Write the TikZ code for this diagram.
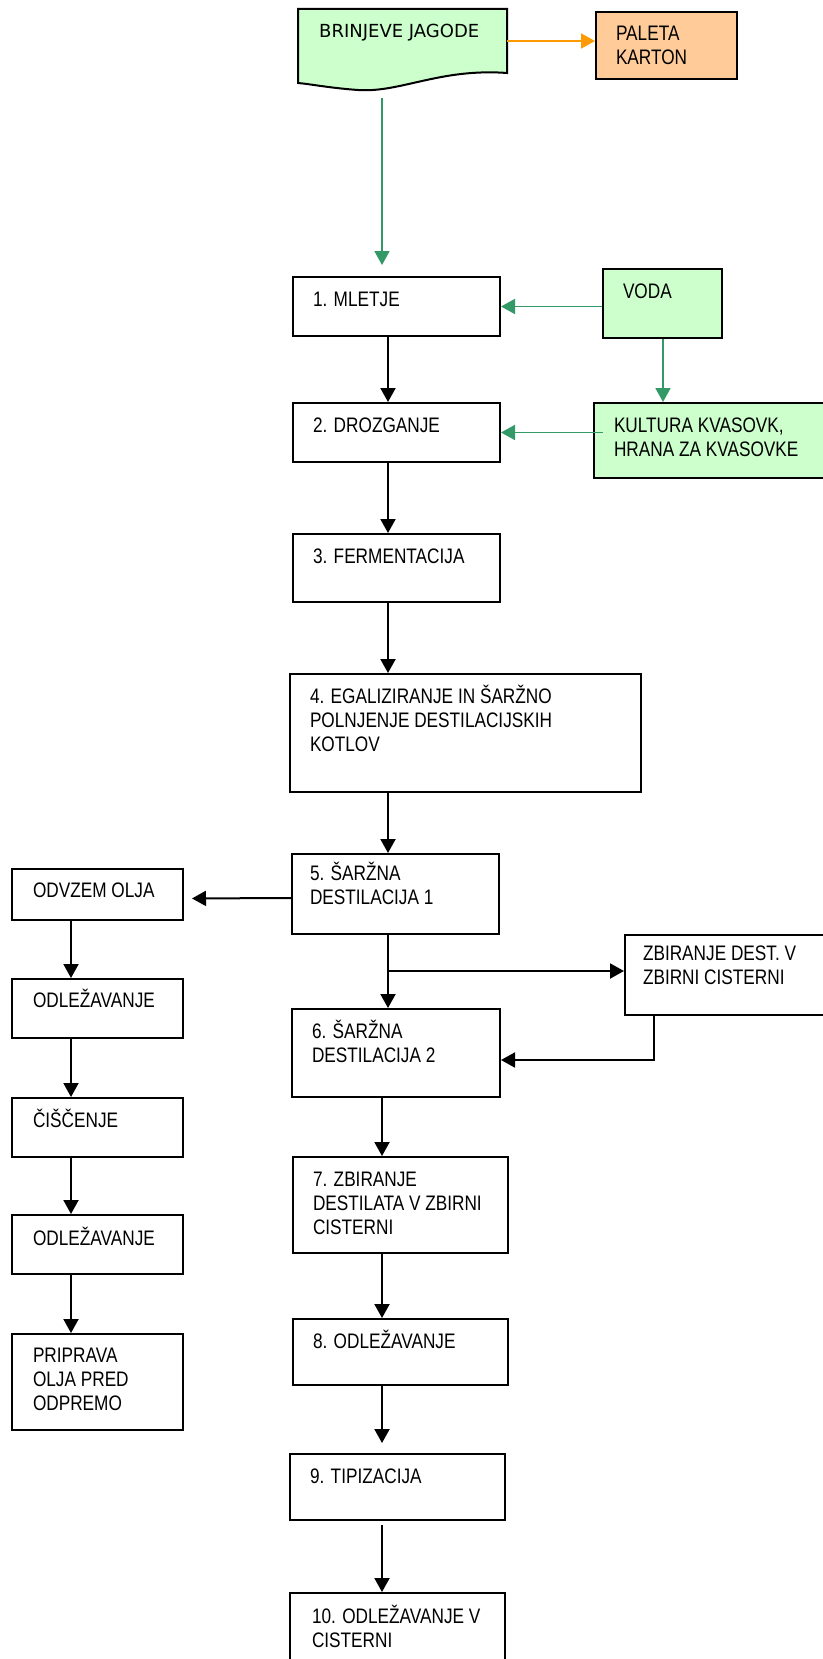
\documentclass[tikz,border=0pt]{standalone}
\usepackage{fontspec}
\setmainfont[FakeStretch=0.82]{Liberation Sans}
\newfontfamily\docfont{DejaVu Sans}
\usepackage{xcolor}
\usepackage{tikz}
\usetikzlibrary{arrows.meta}
\usetikzlibrary{calc}

\definecolor{boxgreen}{HTML}{CCFFCC}
\definecolor{linegreen}{HTML}{339966}
\definecolor{boxorange}{HTML}{FFCC99}
\definecolor{lineorange}{HTML}{FF9900}

\tikzset{
	stepbox/.style={rectangle, draw=black, line width=2pt, anchor=north west, inner sep=0pt},
	boxtext/.style={label={[anchor=base west, inner sep=0pt, xshift=20pt, yshift=-30pt]north west:{\parbox[t]{330pt}{#1}}}},
	boxtextat/.style n args={3}{label={[anchor=base west, inner sep=0pt, xshift=#1, yshift=#2]north west:{\parbox[t]{330pt}{#3}}}}
}

\begin{document}
\begin{tikzpicture}[x=1pt, y=-1pt, >={Triangle[length=14pt, width=15pt]},
	every node/.style={font=\fontsize{21}{24}\selectfont}]
		\useasboundingbox (0,0) rectangle (822,1659);
		
		% document shape
		\draw [line width=2pt, fill=boxgreen]
		(298,9) -- (507,9) -- (507,73)
		.. controls (440,68) and (400,93) .. (358,90)
		.. controls (330,88) and (310,84) .. (298,83)
		-- cycle;
		\node (brin) [anchor=north west, inner sep=0pt, minimum width=209pt, minimum height=74pt,
		boxtextat={21pt}{-29pt}{\docfont\fontsize{18}{22}\selectfont BRINJEVE JAGODE}] at (298,9) {};
		
		\begin{scope}[every node/.append style={stepbox}]
		\node (pal) [fill=boxorange, minimum width=141pt, minimum height=67pt, boxtext={PALETA\\KARTON}] at (595,11) {};
		\node (voda) [fill=boxgreen, minimum width=119pt, minimum height=69pt, boxtext={VODA}] at (602,268) {};
		\node (kult) [fill=boxgreen, minimum width=240pt, minimum height=75pt, boxtext={KULTURA KVASOVK,\\HRANA ZA KVASOVKE}] at (593,402) {};
		
		\node (m1) [minimum width=207pt, minimum height=59pt, boxtext={1. MLETJE}] at (292,276) {};
		\node (m2) [minimum width=207pt, minimum height=59pt, boxtext={2. DROZGANJE}] at (292,402) {};
		\node (m3) [minimum width=207pt, minimum height=68pt, boxtext={3. FERMENTACIJA}] at (292,533) {};
		\node (m4) [minimum width=351pt, minimum height=118pt, boxtext={4. EGALIZIRANJE IN ŠARŽNO\\POLNJENJE DESTILACIJSKIH\\KOTLOV}] at (289,673) {};
		\node (m5) [minimum width=207pt, minimum height=80pt, boxtextat={18pt}{-27pt}{5. ŠARŽNA\\DESTILACIJA 1}] at (291,853) {};
		\node (zbi) [minimum width=210pt, minimum height=80pt, boxtextat={18pt}{-26pt}{ZBIRANJE DEST. V\\ZBIRNI CISTERNI}] at (624,934) {};
		\node (m6) [minimum width=208pt, minimum height=88pt, boxtext={6. ŠARŽNA\\DESTILACIJA 2}] at (291,1008) {};
		\node (m7) [minimum width=215pt, minimum height=96pt, boxtext={7. ZBIRANJE\\DESTILATA V ZBIRNI\\CISTERNI}] at (292,1156) {};
		\node (m8) [minimum width=215pt, minimum height=66pt, boxtext={8. ODLEŽAVANJE}] at (292,1318) {};
		\node (m9) [minimum width=215pt, minimum height=66pt, boxtext={9. TIPIZACIJA}] at (289,1453) {};
		\node (m10) [minimum width=215pt, minimum height=90pt, boxtextat={22pt}{-31pt}{10. ODLEŽAVANJE V\\CISTERNI}] at (289,1592) {};
		
		\node (odv) [minimum width=171pt, minimum height=51pt, boxtextat={21pt}{-29pt}{ODVZEM OLJA}] at (11,868) {};
		\node (l2) [minimum width=171pt, minimum height=59pt, boxtextat={21pt}{-29pt}{ODLEŽAVANJE}] at (11,978) {};
		\node (l3) [minimum width=171pt, minimum height=59pt, boxtextat={21pt}{-30pt}{ČIŠČENJE}] at (11,1097) {};
		\node (l4) [minimum width=171pt, minimum height=59pt, boxtextat={21pt}{-31pt}{ODLEŽAVANJE}] at (11,1214) {};
		\node (l5) [minimum width=171pt, minimum height=96pt, boxtextat={21pt}{-29pt}{PRIPRAVA\\OLJA PRED\\ODPREMO}] at (11,1333) {};
		\end{scope}
		
		\coordinate (cx) at (388,0);
		\coordinate (dx) at (382,0);
		\coordinate (lx) at (71,0);
		\coordinate (gx) at (382,0);
		\coordinate (kx) at (663,0);
		\coordinate (zx) at (654,0);
		\coordinate (br) at (388,971);
		
		\begin{scope}[line width=1.8pt, every edge/.style={draw=linegreen}]
		\path [->, linegreen] (brin.south -| gx) edge [shorten <=15pt, shorten >=11pt] (m1.north -| gx)
		(voda.west |- m1.east) edge (m1.east)
		(voda.south -| kx) edge (kult.north -| kx)
		([xshift=10pt]kult.west |- m2.east) edge (m2.east);
		\draw [->, lineorange] (brin.east |- 0,41) -- (pal.west |- 0,41);
		\end{scope}
		
		\begin{scope}[line width=2pt, every edge/.style={draw=black}]
		\path [->] (m1.south -| cx) edge (m2.north -| cx)
		(m2.south -| cx) edge (m3.north -| cx)
		(m3.south -| cx) edge (m4.north -| cx)
		(m4.south -| cx) edge (m5.north -| cx)
		(m5.south -| cx) edge (m6.north -| cx)
		(br) edge (zbi.west |- br)
		([yshift=-4pt]m5.west) edge [shorten >=8pt] ([yshift=-4pt]odv.east)
		(m6.south -| dx) edge (m7.north -| dx)
		(m7.south -| dx) edge (m8.north -| dx)
		(m8.south -| dx) edge [shorten >=10pt] (m9.north -| dx)
		(m9.south -| dx) edge [shorten <=4pt] (m10.north -| dx)
		(odv.south -| lx) edge (l2.north -| lx)
		(l2.south -| lx) edge (l3.north -| lx)
		(l3.south -| lx) edge (l4.north -| lx)
		(l4.south -| lx) edge (l5.north -| lx);
		\draw [->] (zbi.south -| zx) |- ([yshift=-7pt]m6.east);
		\end{scope}
		
\end{tikzpicture}
\end{document}
